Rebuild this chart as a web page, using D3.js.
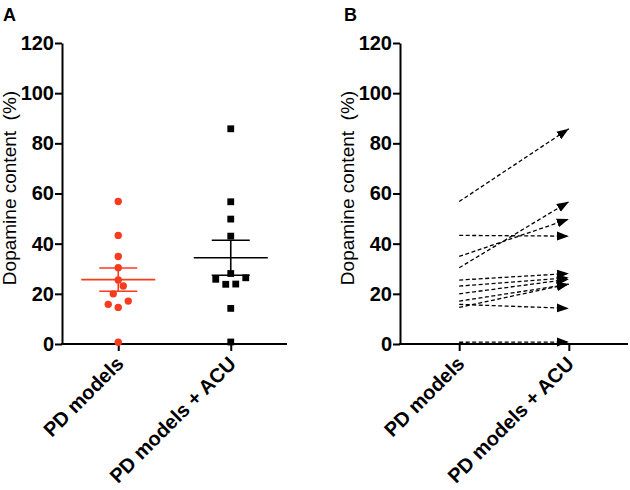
<!DOCTYPE html>
<html>
<head>
<meta charset="utf-8">
<script src="https://cdn.jsdelivr.net/npm/d3@7"></script>
<style>
  html, body { margin: 0; padding: 0; background: #fff; }
  svg { display: block; }
  text { font-family: "Liberation Sans", Arial, Helvetica, sans-serif; }
</style>
</head>
<body>
<svg id="chart" width="630" height="490"></svg>
<script>
// ---- data ----
const categories = ["PD models", "PD models + ACU"];
// paired subjects (same order in both arrays)
const preValues  = [56.8, 43.3, 34.9, 30.4, 25.5, 23.1, 20.0, 17.1, 15.8, 14.6, 0.7];
const postValues = [85.8, 43.0, 49.8, 56.7, 28.1, 26.4, 25.8, 23.8, 14.2, 23.9, 0.8];
const yTicks = [0, 20, 40, 60, 80, 100, 120];
const yTitle = "Dopamine content  (%)";
const panelLabels = ["A", "B"];

// ---- layout ----
const svg = d3.select("#chart");
const red = "#f73b1e";
const axisW = 2;

const y = d3.scaleLinear().domain([0, 120]).range([344, 43]);

function drawAxes(g, x, xLeft, xRight, label, labelX) {
  // y axis
  const yAx = g.append("g").attr("transform", `translate(${xLeft},0)`)
    .call(d3.axisLeft(y).tickValues(yTicks).tickSize(7).tickPadding(1).tickSizeOuter(0));
  yAx.select(".domain").attr("stroke", "#000").attr("stroke-width", axisW);
  yAx.selectAll(".tick line").attr("stroke", "#000").attr("stroke-width", axisW);
  yAx.selectAll(".tick text").attr("font-size", 20).attr("font-weight", "bold")
    .attr("fill", "#000").attr("font-family", "Liberation Sans, Arial, sans-serif");

  // x axis
  const xAx = g.append("g").attr("transform", `translate(0,${y(0)})`)
    .call(d3.axisBottom(x).tickSize(7).tickSizeOuter(0));
  xAx.select(".domain").attr("stroke", "#000").attr("stroke-width", axisW)
    .attr("d", `M${xLeft - 1},0H${xRight}`);
  xAx.selectAll(".tick line").attr("stroke", "#000").attr("stroke-width", axisW);
  xAx.selectAll(".tick text").remove();
  xAx.selectAll(".tick").append("text")
    .attr("transform", "translate(6,21) rotate(-45)")
    .attr("text-anchor", "end")
    .attr("font-size", 20).attr("font-weight", "bold").attr("fill", "#000")
    .attr("font-family", "Liberation Sans, Arial, sans-serif")
    .text(d => d);

  // y title
  g.append("text")
    .attr("transform", `translate(${xLeft - 46.5},188) rotate(-90)`)
    .attr("text-anchor", "middle")
    .attr("font-size", 19).attr("fill", "#000")
    .attr("xml:space", "preserve")
    .style("white-space", "pre")
    .text(yTitle);

  // panel label
  g.append("text").attr("x", labelX).attr("y", 21)
    .attr("font-size", 18).attr("font-weight", "bold").attr("fill", "#000")
    .text(label);
}

// simple GraphPad-like swarm: group points into rows, spread symmetrically
function swarm(values, rowH, spacing) {
  const sorted = values.map((v, i) => ({ v, i })).sort((a, b) => a.v - b.v);
  const out = new Array(values.length);
  let k = 0;
  while (k < sorted.length) {
    const startY = y(sorted[k].v);
    const row = [sorted[k]];
    let j = k + 1;
    while (j < sorted.length && startY - y(sorted[j].v) < rowH) { row.push(sorted[j]); j++; }
    const n = row.length;
    const slots = d3.range(n).map(m => (m - (n - 1) / 2) * spacing)
      .sort((a, b) => Math.abs(a) - Math.abs(b) || a - b);
    row.forEach((p, m) => out[p.i] = { v: p.v, dx: slots[m] });
    k = j;
  }
  return out;
}

// ---- Panel A ----
const gA = svg.append("g");
const xA = d3.scalePoint().domain(categories).range([62, 287]).padding(0.5);
drawAxes(gA, xA, 62, 287, panelLabels[0], 3);

function meanSem(values, cx, color) {
  const m = d3.mean(values);
  const sem = d3.deviation(values) / Math.sqrt(values.length);
  const g = gA.append("g").attr("stroke", color).attr("stroke-width", 1.6).attr("fill", "none");
  g.append("line").attr("x1", cx - 37).attr("x2", cx + 37).attr("y1", y(m)).attr("y2", y(m));
  g.append("line").attr("x1", cx - 19).attr("x2", cx + 19).attr("y1", y(m + sem)).attr("y2", y(m + sem));
  g.append("line").attr("x1", cx - 19).attr("x2", cx + 19).attr("y1", y(m - sem)).attr("y2", y(m - sem));
  g.append("line").attr("x1", cx).attr("x2", cx).attr("y1", y(m + sem)).attr("y2", y(m - sem));
}

const sw1 = swarm(preValues, 9, 10);
const sw2 = swarm(postValues, 9, 10);
const c1 = xA(categories[0]), c2 = xA(categories[1]);

gA.append("g").selectAll("circle").data(sw1).join("circle")
  .attr("cx", d => c1 + d.dx).attr("cy", d => y(d.v)).attr("r", 3.7).attr("fill", red);
meanSem(preValues, c1, red);

gA.append("g").selectAll("rect").data(sw2).join("rect")
  .attr("x", d => c2 + d.dx - 3.4).attr("y", d => y(d.v) - 3.4)
  .attr("width", 6.8).attr("height", 6.8).attr("fill", "#000");
meanSem(postValues, c2, "#000");

// ---- Panel B ----
const gB = svg.append("g");
const xB = d3.scalePoint().domain(categories).range([400, 628]).padding(0.54);
drawAxes(gB, xB, 400, 628, panelLabels[1], 344);

svg.append("defs").append("marker")
  .attr("id", "arrow").attr("markerUnits", "userSpaceOnUse")
  .attr("viewBox", "0 -5 12 10").attr("refX", 12).attr("refY", 0)
  .attr("markerWidth", 12).attr("markerHeight", 10).attr("orient", "auto")
  .append("path").attr("d", "M0,-4.5L12,0L0,4.5Z").attr("fill", "#000");

const pairs = preValues.map((v, i) => ({ pre: v, post: postValues[i] }));
gB.append("g").selectAll("line").data(pairs).join("line")
  .attr("x1", xB(categories[0])).attr("y1", d => y(d.pre))
  .attr("x2", xB(categories[1])).attr("y2", d => y(d.post))
  .attr("stroke", "#000").attr("stroke-width", 1.3)
  .attr("stroke-dasharray", "4,2.5")
  .attr("marker-end", "url(#arrow)");
</script>
</body>
</html>
